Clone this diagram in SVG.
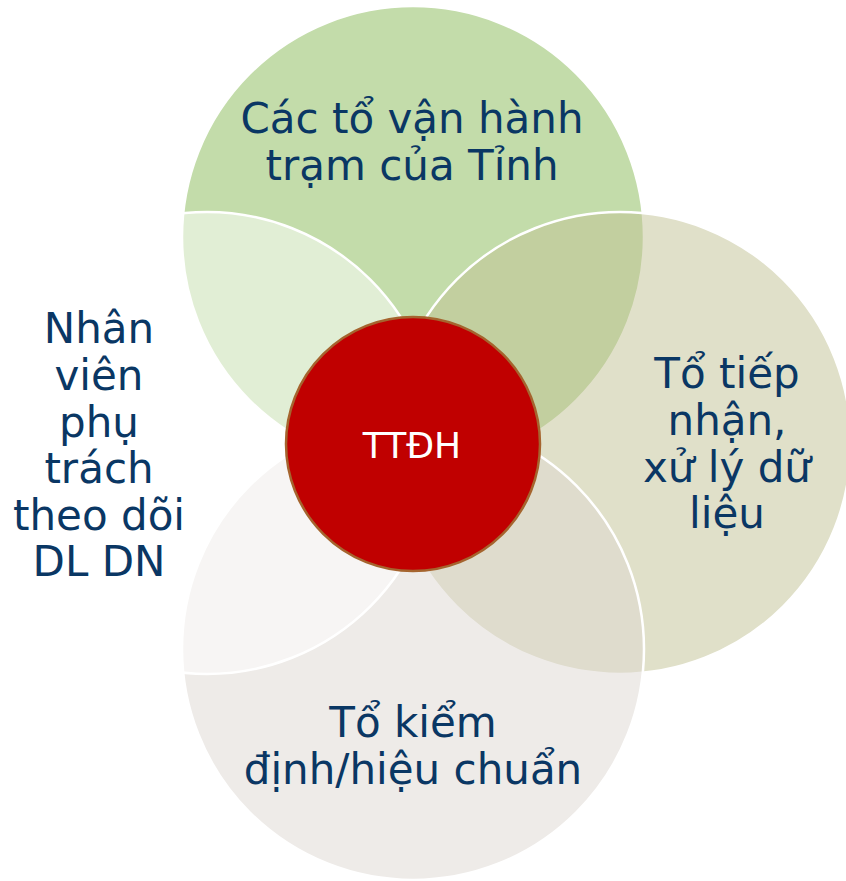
<svg xmlns="http://www.w3.org/2000/svg" width="846" height="881" viewBox="0 0 846 881">
  <style>
    .petal { stroke: #ffffff; stroke-width: 2.5; }
    .label { font-family: "DejaVu Sans", Verdana, sans-serif; font-size: 42px; fill: #0a3764; text-anchor: middle; }
    .core-label { font-family: "DejaVu Sans", Verdana, sans-serif; font-size: 36px; fill: #ffffff; text-anchor: middle; }
  </style>
  <rect width="846" height="881" fill="#ffffff"/>

  <!-- four overlapping translucent circles, drawn top, right, bottom, left -->
  <g id="node-top">
    <circle class="petal" cx="413" cy="237" r="231" fill="rgb(135,185,85)" fill-opacity="0.5"/>
    <text class="label" x="412" y="133">Các tổ vận hành</text>
    <text class="label" x="412" y="180">trạm của Tỉnh</text>
  </g>
  <g id="node-right">
    <circle class="petal" cx="620" cy="443" r="231" fill="rgb(193,193,147)" fill-opacity="0.5"/>
  </g>
  <g id="node-bottom">
    <circle class="petal" cx="413" cy="649" r="231" fill="rgb(221,215,209)" fill-opacity="0.5"/>
  </g>
  <g id="node-left">
    <circle class="petal" cx="207" cy="443" r="231" fill="#ffffff" fill-opacity="0.5"/>
  </g>

  <!-- labels kept above all fills -->
  <g id="labels">
    <text class="label" x="727" y="388">Tổ tiếp</text>
    <text class="label" x="727" y="435">nhận,</text>
    <text class="label" x="727" y="482">xử lý dữ</text>
    <text class="label" x="727" y="528">liệu</text>

    <text class="label" x="413" y="737">Tổ kiểm</text>
    <text class="label" x="413" y="784">định/hiệu chuẩn</text>

    <text class="label" x="99" y="343">Nhân</text>
    <text class="label" x="99" y="390">viên</text>
    <text class="label" x="99" y="437">phụ</text>
    <text class="label" x="99" y="483">trách</text>
    <text class="label" x="99" y="530">theo dõi</text>
    <text class="label" x="99" y="576">DL DN</text>
  </g>

  <g id="node-center">
    <circle cx="413" cy="444" r="127" fill="#c00000" stroke="#a5642e" stroke-width="2.5"/>
    <text class="core-label" x="412" y="458">TTĐH</text>
  </g>

  <g id="connectors"/>
</svg>
